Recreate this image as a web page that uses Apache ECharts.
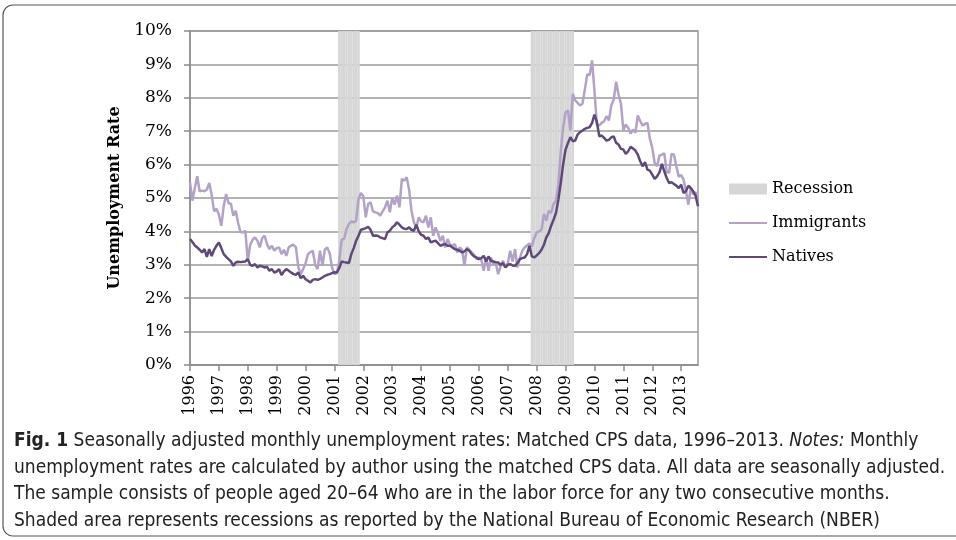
<!DOCTYPE html>
<html>
<head>
<meta charset="utf-8">
<script src="https://cdn.jsdelivr.net/npm/echarts@6/dist/echarts.min.js"></script>
<style>html,body{margin:0;padding:0;background:#fff}#c{width:956px;height:540px}</style>
</head>
<body>
<div id="c"></div>
<script>
// ---- data (monthly, Jan 1996 – Aug 2013) ----
const startYear = 1996;
const monthCount = 212;
const yTicks = ['0%','1%','2%','3%','4%','5%','6%','7%','8%','9%','10%'];
const recessions = [['2001-03','2001-11'], ['2007-11','2009-04']];
const immigrants = [
  5.47,4.92,5.30,5.65,5.20,5.22,5.20,5.25,5.45,5.10,4.60,4.68,   // 1996
  4.50,4.17,4.75,5.12,4.85,4.82,4.47,4.62,4.25,3.98,3.97,4.02,   // 1997
  3.10,3.60,3.75,3.82,3.72,3.52,3.80,3.87,3.62,3.47,3.57,3.42,   // 1998
  3.50,3.52,3.32,3.45,3.27,3.52,3.58,3.60,3.52,2.92,2.72,2.87,   // 1999
  3.05,3.32,3.38,3.42,3.00,2.87,3.42,2.97,3.45,3.52,3.35,2.92,   // 2000
  2.72,2.75,3.12,3.75,3.78,4.07,4.22,4.30,4.27,4.32,4.97,5.15,   // 2001
  5.05,4.42,4.82,4.87,4.60,4.57,4.55,4.47,4.60,4.72,4.92,4.57,   // 2002
  5.00,4.80,5.07,4.72,5.57,5.52,5.62,5.25,4.62,4.27,4.12,4.42,   // 2003
  4.30,4.27,4.47,4.12,4.42,3.87,4.12,3.95,3.72,3.87,3.52,3.77,   // 2004
  3.60,3.57,3.62,3.37,3.52,3.45,2.97,3.52,3.45,3.37,3.30,3.17,   // 2005
  3.22,3.15,2.82,3.22,2.82,3.22,3.02,3.05,2.72,2.95,3.12,2.92,   // 2006
  3.05,3.42,3.10,3.47,2.92,3.20,3.42,3.52,3.58,3.64,3.55,3.80,   // 2007
  3.97,4.00,4.05,4.52,4.32,4.62,4.55,4.82,4.92,5.40,6.40,7.12,   // 2008
  7.57,7.62,7.02,8.12,7.92,7.85,7.77,7.82,8.25,8.70,8.68,9.12,   // 2009
  8.20,7.20,7.17,7.25,7.30,7.45,7.32,7.78,7.95,8.48,8.10,7.82,   // 2010
  7.03,7.20,7.10,6.93,7.05,6.95,7.47,7.30,7.17,7.22,7.25,6.78,   // 2011
  6.50,6.05,5.95,6.27,6.30,6.34,5.78,5.75,6.32,6.30,5.95,5.64,   // 2012
  5.69,5.55,5.22,4.80,5.30,5.10,5.18,4.90                        // 2013
];
const natives = [
  3.77,3.68,3.58,3.52,3.45,3.37,3.47,3.24,3.47,3.26,3.45,3.57,   // 1996
  3.67,3.50,3.32,3.24,3.17,3.10,2.97,3.07,3.09,3.08,3.09,3.10,   // 1997
  3.17,3.00,2.97,3.02,2.92,2.97,2.95,2.92,2.94,2.82,2.87,2.77,   // 1998
  2.80,2.87,2.69,2.80,2.87,2.82,2.77,2.72,2.70,2.77,2.60,2.67,   // 1999
  2.57,2.52,2.47,2.55,2.57,2.55,2.58,2.62,2.67,2.70,2.72,2.75,   // 2000
  2.78,2.77,2.90,3.10,3.08,3.07,3.05,3.32,3.50,3.72,3.87,4.05,   // 2001
  4.07,4.10,4.14,4.05,3.87,3.88,3.87,3.82,3.80,3.77,3.97,4.02,   // 2002
  4.12,4.18,4.27,4.20,4.12,4.08,4.07,4.12,4.05,4.02,4.20,4.00,   // 2003
  3.90,3.87,3.77,3.82,3.67,3.70,3.72,3.65,3.57,3.60,3.62,3.57,   // 2004
  3.57,3.52,3.47,3.45,3.42,3.37,3.40,3.47,3.42,3.32,3.25,3.22,   // 2005
  3.17,3.20,3.27,3.10,3.25,3.12,3.10,3.08,3.07,3.00,3.05,2.92,   // 2006
  3.00,3.02,2.98,2.97,3.05,3.17,3.20,3.22,3.32,3.57,3.25,3.22,   // 2007
  3.28,3.35,3.45,3.60,3.82,3.95,4.17,4.35,4.55,4.95,5.45,6.02,   // 2008
  6.45,6.65,6.82,6.70,6.72,6.90,6.97,7.02,7.07,7.10,7.12,7.25,   // 2009
  7.50,7.27,6.85,6.87,6.80,6.72,6.74,6.82,6.84,6.65,6.60,6.47,   // 2010
  6.45,6.32,6.40,6.53,6.48,6.42,6.30,6.10,5.95,6.07,5.85,5.82,   // 2011
  5.70,5.57,5.65,5.77,6.02,5.80,5.60,5.45,5.47,5.42,5.37,5.30,   // 2012
  5.40,5.15,5.20,5.37,5.30,5.20,5.07,4.75                        // 2013
];

// ---- build categories and recession bars ----
const months = [];
for (let k = 0; k < monthCount; k++) {
  const y = startYear + Math.floor(k / 12), m = (k % 12) + 1;
  months.push(y + '-' + (m < 10 ? '0' + m : m));
}
const recessionBars = months.map(function (mo) {
  for (const r of recessions) if (mo >= r[0] && mo <= r[1]) return 10;
  return '-';
});

const serif = '"DejaVu Serif", "Liberation Serif", serif';
const capFont = '"Liberation Sans Narrow", "DejaVu Sans Condensed", "Roboto Condensed", "Liberation Sans", sans-serif';
const chart = echarts.init(document.getElementById('c'), null, {renderer: 'canvas'});
chart.setOption({
  backgroundColor: '#ffffff',
  animation: false,
  grid: {left: 190, right: 258, top: 31, bottom: 175, show: true, borderColor: '#9a9a9a', borderWidth: 1.5, containLabel: false},
  legend: {
    orient: 'vertical', left: 728, top: 181, padding: 0,
    itemWidth: 38, itemHeight: 11, itemGap: 18,
    textStyle: {fontFamily: serif, fontSize: 16, color: '#000'},
    data: [
      {name: 'Recession', icon: 'rect'},
      {name: 'Immigrants', itemStyle: {opacity: 0}},
      {name: 'Natives', itemStyle: {opacity: 0}}
    ]
  },
  xAxis: {
    type: 'category', data: months, boundaryGap: false,
    axisLine: {lineStyle: {color: '#8c8c8c', width: 1.5}},
    axisTick: {interval: function (i) { return i % 12 === 0; }, length: 6, lineStyle: {color: '#8c8c8c', width: 1.5}},
    axisLabel: {
      interval: function (i) { return i % 12 === 0; },
      rotate: 90, margin: 10, color: '#000', fontFamily: serif, fontSize: 16,
      formatter: function (v) { return v.slice(0, 4); }
    },
    splitLine: {show: false}
  },
  yAxis: {
    type: 'value', min: 0, max: 10, interval: 1,
    name: 'Unemployment Rate', nameLocation: 'middle', nameGap: 59,
    nameTextStyle: {fontFamily: serif, fontWeight: 'bold', fontSize: 16, color: '#000'},
    axisLine: {show: true, lineStyle: {color: '#8c8c8c', width: 1.5}},
    axisTick: {show: true, length: 6, lineStyle: {color: '#8c8c8c', width: 1.5}},
    axisLabel: {margin: 18, color: '#000', fontFamily: serif, fontSize: 17,
      formatter: function (v) { return yTicks[Math.round(v)]; }},
    splitLine: {lineStyle: {color: '#9a9a9a', width: 1.5}}
  },
  series: [
    {name: 'Recession', type: 'bar', data: recessionBars, barWidth: '100%', barGap: '0%',
      itemStyle: {color: '#d6d6d6'}, silent: true},
    {name: 'Immigrants', type: 'line', data: immigrants, symbol: 'none', showSymbol: false,
      lineStyle: {color: '#b3a2c7', width: 2.5}, itemStyle: {color: '#b3a2c7'}},
    {name: 'Natives', type: 'line', data: natives, symbol: 'none', showSymbol: false,
      lineStyle: {color: '#5f497a', width: 2.5}, itemStyle: {color: '#5f497a'}}
  ],
  graphic: [
    {type: 'rect', shape: {x: 3, y: 5, width: 1000, height: 531, r: 10},
      style: {fill: 'none', stroke: '#555', lineWidth: 1.2}, silent: true},
    {type: 'text', left: 14, top: 428, silent: true,
      style: {
        text: '{b|Fig. 1} Seasonally adjusted monthly unemployment rates: Matched CPS data, 1996–2013. {i|Notes:} Monthly\n' +
              'unemployment rates are calculated by author using the matched CPS data. All data are seasonally adjusted.\n' +
              'The sample consists of people aged 20–64 who are in the labor force for any two consecutive months.\n' +
              'Shaded area represents recessions as reported by the National Bureau of Economic Research (NBER)',
        fontFamily: capFont, fontSize: 19, lineHeight: 26.5, fill: '#222',
        rich: {
          b: {fontWeight: 'bold', fontFamily: capFont, fontSize: 19, lineHeight: 26.5, fill: '#222'},
          i: {fontStyle: 'italic', fontFamily: capFont, fontSize: 19, lineHeight: 26.5, fill: '#222'}
        }
      }}
  ]
});
</script>
</body>
</html>
